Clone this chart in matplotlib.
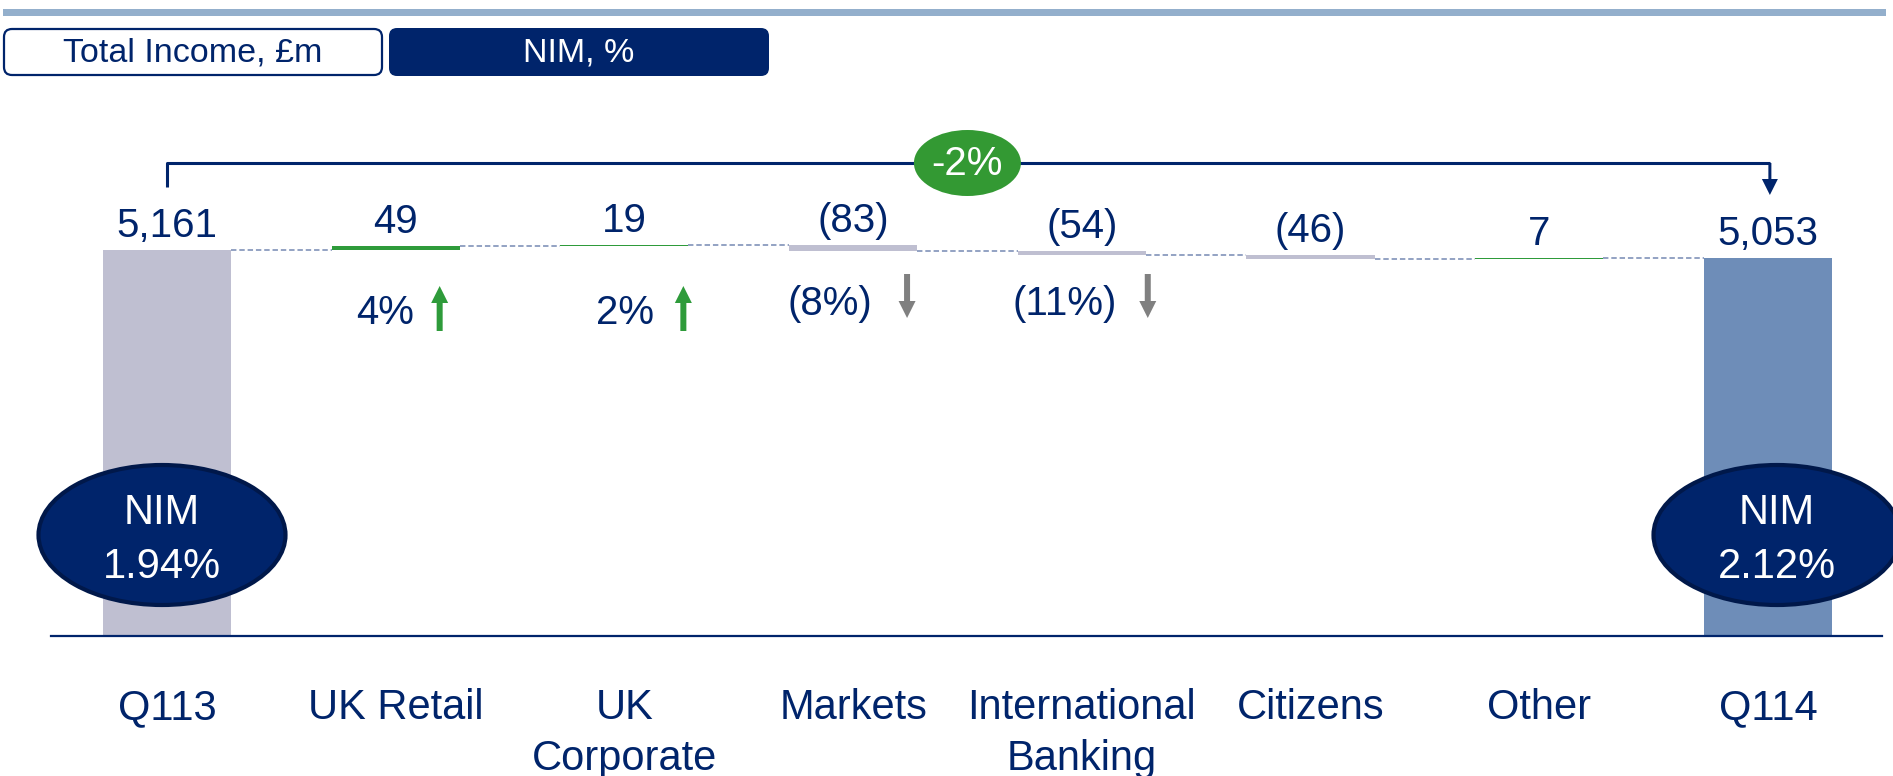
import matplotlib.pyplot as plt
from matplotlib.patches import Ellipse, FancyArrow, FancyBboxPatch, Rectangle

# -------------------------------
# Data
# -------------------------------
categories = ["Q113", "UK Retail", "UK\nCorporate", "Markets",
              "International\nBanking", "Citizens", "Other", "Q114"]
start_total = 5161
end_total = 5053
changes = [49, 19, -83, -54, -46, 7]
pct_changes = [4, 2, -8, -11, None, None]
nim_start = 1.94
nim_end = 2.12
total_change_pct = -2

# -------------------------------
# Style
# -------------------------------
navy = "#00246B"
green = "#2E9B3A"
bubble_green = "#339933"
grey_bar = "#BFBFD1"
end_bar = "#6E8DB8"
conn_col = "#8A9BBE"
arrow_grey = "#808080"
plt.rcParams["font.family"] = ["Liberation Sans", "DejaVu Sans"]

# horizontal nudges (px) for the % labels and their arrows
pct_text_dx = [18, 30, 19, 35]
pct_arrow_dx = [44, 59, 54, 66]

W, H = 1893, 776
fig = plt.figure(figsize=(W / 100, H / 100), dpi=100)

# main chart axes: bottom spine is the baseline
ax = fig.add_axes([51 / W, 140 / H, (1882 - 51) / W, (H - 140) / H])
ax.set_xlim(-0.507, 7.499)
ax.set_ylim(0, 636 / 0.074792)
for s in ["top", "left", "right"]:
    ax.spines[s].set_visible(False)
ax.spines["bottom"].set_color(navy)
ax.spines["bottom"].set_linewidth(1.6)
ax.set_xticks([])
ax.set_yticks([])
ax.patch.set_alpha(0)

# overlay axes in pixel coordinates (y down)
ov = fig.add_axes([0, 0, 1, 1])
ov.set_xlim(0, W)
ov.set_ylim(H, 0)
ov.axis("off")


def to_px(x, y):
    d = ax.transData.transform((x, y))
    return d[0], H - d[1]


bw = 0.56

# -------------------------------
# Waterfall bars
# -------------------------------
ax.bar(0, start_total, width=bw, color=grey_bar, zorder=2)
level = start_total
tops = [start_total]
for i, c in enumerate(changes, start=1):
    ax.plot([i - 1 + bw / 2, i - bw / 2], [level, level], ls=(0, (3, 1.6)),
            color=conn_col, lw=1.3, zorder=1)
    ax.bar(i, c, bottom=level, width=bw,
           color=green if c > 0 else grey_bar, zorder=2)
    tops.append(max(level, level + c))
    level += c
n = len(categories) - 1
ax.plot([n - 1 + bw / 2, n - bw / 2], [level, level], ls=(0, (3, 1.6)),
        color=conn_col, lw=1.3, zorder=1)
ax.bar(n, end_total, width=bw, color=end_bar, zorder=2)
tops.append(end_total)

# value labels
labels = [f"{start_total:,}"] + [str(c) if c > 0 else f"({-c})" for c in changes] + [f"{end_total:,}"]
for i, lab in enumerate(labels):
    x, y = to_px(i, tops[i])
    ov.text(x, y - 13, lab, ha="center", va="baseline", fontsize=29, color=navy)

# category labels (one text per line)
for i, cat in enumerate(categories):
    x, _ = to_px(i, 0)
    for k, line in enumerate(cat.split("\n")):
        ov.text(x, 719 + 51 * k, line, ha="center", va="baseline", fontsize=30,
                color=navy)

# percentage changes with arrows
for i, p in enumerate(pct_changes, start=1):
    if p is None:
        continue
    x, _ = to_px(i, 0)
    txt = f"{p}%" if p > 0 else f"({-p}%)"
    yc = 310 if p > 0 else 301
    ov.text(x + pct_text_dx[i - 1], yc + 14, txt, ha="right", va="baseline",
            fontsize=29, color=navy)
    ax_x = x + pct_arrow_dx[i - 1]
    if p > 0:
        ov.add_patch(FancyArrow(ax_x, yc + 21, 0, -45, width=6, head_width=17,
                                head_length=17, length_includes_head=True,
                                color=green, lw=0))
    else:
        ov.add_patch(FancyArrow(ax_x, yc - 27, 0, 44, width=6, head_width=17,
                                head_length=17, length_includes_head=True,
                                color=arrow_grey, lw=0))

# -------------------------------
# Overall change bracket
# -------------------------------
x0, _ = to_px(0, 0)
x1, _ = to_px(n, 0)
by = 163
ov.plot([x0, x0, x1 + 2], [187, by, by], color=navy, lw=2.2, solid_capstyle="butt")
ov.add_patch(FancyArrow(x1 + 2, by, 0, 32, width=3, head_width=16, head_length=16,
                        length_includes_head=True, color=navy, lw=0))
xm, _ = to_px(3.5, 0)
ov.add_patch(Ellipse((xm, by), 107, 66, facecolor=bubble_green, edgecolor="none", zorder=3))
ov.text(xm, by + 1, f"{total_change_pct}%", ha="center", va="center",
        fontsize=29, color="white", zorder=4)

# -------------------------------
# NIM bubbles
# -------------------------------
for cx, val in [(162, nim_start), (1777, nim_end)]:
    ov.add_patch(Ellipse((cx, 535), 247, 140, facecolor=navy, edgecolor="#00184A",
                         lw=3, zorder=3))
    ov.text(cx, 524, "NIM", ha="center", va="baseline", fontsize=30, color="white", zorder=4)
    ov.text(cx, 578, f"{val:.2f}%", ha="center", va="baseline", fontsize=30,
            color="white", zorder=4)

# -------------------------------
# Header band and tabs
# -------------------------------
ov.add_patch(Rectangle((3, 9), 1883, 7, color="#93AFCC", lw=0))
ov.add_patch(FancyBboxPatch((4, 29), 378, 46, boxstyle="round,pad=0,rounding_size=8",
                            facecolor="white", edgecolor=navy, lw=1.6))
ov.text(193, 53, "Total Income, £m", ha="center", va="center", fontsize=24.5, color=navy)
ov.add_patch(FancyBboxPatch((389, 28), 380, 48, boxstyle="round,pad=0,rounding_size=8",
                            facecolor=navy, edgecolor="none"))
ov.text(579, 53, "NIM, %", ha="center", va="center", fontsize=24.5, color="white")

fig.savefig("out.png", dpi=100)
